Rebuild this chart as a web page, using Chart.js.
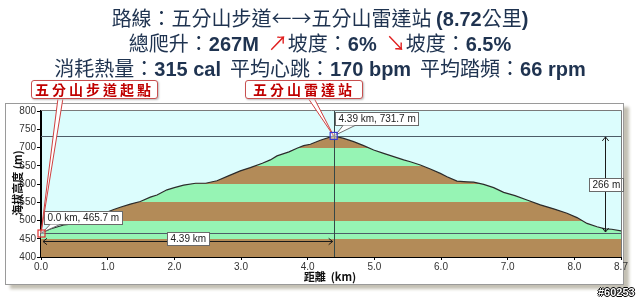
<!DOCTYPE html>
<html><head><meta charset="utf-8">
<script src="https://cdn.jsdelivr.net/npm/chart.js@4.4.0/dist/chart.umd.min.js"></script>
<style>
html,body{margin:0;padding:0;background:#fff;}
#wrap{position:relative;width:640px;height:302px;overflow:hidden;background:#fff;}
#panel{position:absolute;left:5px;top:103px;width:617px;height:180px;border:1px solid #9a9a9a;background:#fff;box-shadow:5px 4px 3px #c4c0b4;}
#cv{position:absolute;left:0;top:0;}
.t{position:absolute;left:0;width:640px;text-align:center;color:#1f3350;font-family:"Noto Sans CJK TC",sans-serif;font-size:20px;line-height:24px;white-space:nowrap;}
.b{font-family:"Liberation Sans",Arial,sans-serif;font-weight:bold;}
.r{color:#e02020;}
.call{position:absolute;top:80px;height:17px;border:1px solid #c85050;border-radius:3px;background:#fff;color:#c00000;font-family:"Noto Sans CJK TC",sans-serif;font-weight:bold;font-size:14px;line-height:17px;text-align:center;letter-spacing:3px;box-shadow:1px 1px 2px #bbb;white-space:nowrap;}
.ax{position:absolute;font-family:"Noto Sans CJK TC",sans-serif;font-weight:bold;font-size:11px;color:#111;white-space:nowrap;}
#wm{position:absolute;left:598px;top:286px;font-family:"Liberation Sans",Arial,sans-serif;font-weight:bold;font-size:11px;color:#fff;text-shadow:1px 0 #000,-1px 0 #000,0 1px #000,0 -1px #000;}
</style>
</head><body>
<div id="wrap">
  <div id="panel"></div>
  <canvas id="cv" width="640" height="302"></canvas>
  <div class="t" style="top:6px">路線：五分山步道←→五分山雷達站 <span class="b">(8.72</span>公里<span class="b">)</span></div>
  <div class="t" style="top:31px">總爬升：<span class="b">267M</span>&nbsp;&nbsp;<span class="r">↗</span>坡度：<span class="b">6%</span>&nbsp;&nbsp;<span class="r">↘</span>坡度：<span class="b">6.5%</span></div>
  <div class="t" style="top:56px">消耗熱量：<span class="b">315 cal</span>&nbsp;&nbsp;平均心跳：<span class="b">170 bpm</span>&nbsp;&nbsp;平均踏頻：<span class="b">66 rpm</span></div>
  <div class="call" style="left:31px;width:125px;">五分山步道起點</div>
  <div class="call" style="left:245px;width:116px;">五分山雷達站</div>
  <div class="ax" style="left:-18px;top:175px;width:70px;text-align:center;transform:rotate(-90deg);">海拔高度 (m)</div>
  <div class="ax" style="left:290px;top:268px;width:80px;text-align:center;">距離&nbsp;&nbsp;(km)</div>
  <div id="wm">#60253</div>
</div>
<script>
// ---- data ----
const distKm = [0, 0.14, 0.34, 0.49, 0.7, 0.9, 1.09, 1.2, 1.34, 1.49, 1.64, 1.74, 1.89, 2.0, 2.14, 2.32, 2.47, 2.64, 2.82, 2.99, 3.14, 3.32, 3.44, 3.54, 3.72, 3.84, 3.94, 4.04, 4.19, 4.39, 4.54, 4.69, 4.84, 4.99, 5.14, 5.29, 5.44, 5.54, 5.69, 5.84, 5.99, 6.09, 6.24, 6.39, 6.49, 6.64, 6.79, 6.94, 7.11, 7.29, 7.49, 7.69, 7.89, 8.04, 8.19, 8.34, 8.46, 8.56, 8.71];
const elevM  = [465.7, 476.7, 487.7, 490.4, 503, 516, 530, 537, 545, 552, 564, 570, 584, 590, 597, 602, 602, 609, 623, 636, 645, 657, 666, 677, 688, 698, 705, 709, 720, 731.7, 725, 716, 705, 693, 684, 675, 666, 661, 652, 641, 629, 620, 608, 606, 605, 599, 590, 577, 568, 556, 543, 532, 520, 508, 492, 483, 477, 476, 471];
const xTickValues = [0, 1, 2, 3, 4, 5, 6, 7, 8, 8.7];
const yTickValues = [400, 450, 500, 550, 600, 650, 700, 750, 800];
const bandEdges = [400, 450, 500, 550, 600, 650, 700, 750, 800];
const startPoint = {km: 0, m: 465.7, label: '0.0 km, 465.7 m'};
const peakPoint = {km: 4.39, m: 731.7, label: '4.39 km, 731.7 m'};
const distArrow = {from: 0, to: 4.39, atM: 444, label: '4.39 km'};
const climbArrow = {atKm: 8.46, from: 465.7, to: 731.7, label: '266 m'};

const points = distKm.map((d, i) => ({x: d, y: elevM[i]}));
const BROWN = '#b38b58', GREEN = '#96f4b4';

function bandFill(context) {
  const chart = context.chart;
  const a = chart.chartArea;
  if (!a) return BROWN;
  const ys = chart.scales.y;
  const y0 = ys.getPixelForValue(bandEdges[0]);
  const y1 = ys.getPixelForValue(bandEdges[bandEdges.length - 1]);
  const g = chart.ctx.createLinearGradient(0, y0, 0, y1);
  for (let i = 0; i < bandEdges.length - 1; i++) {
    const c = i % 2 === 0 ? BROWN : GREEN;
    const t0 = (ys.getPixelForValue(bandEdges[i]) - y0) / (y1 - y0);
    const t1 = (ys.getPixelForValue(bandEdges[i + 1]) - y0) / (y1 - y0);
    g.addColorStop(Math.max(0, Math.min(1, t0)), c);
    g.addColorStop(Math.max(0, Math.min(1, t1 - 0.0001)), c);
  }
  return g;
}

function arrowHead(ctx, x, y, dir) {
  // dir: 'l','r','u','d'
  const s = 4;
  ctx.beginPath();
  if (dir === 'l') { ctx.moveTo(x + s, y - s * 0.8); ctx.lineTo(x, y); ctx.lineTo(x + s, y + s * 0.8); }
  if (dir === 'r') { ctx.moveTo(x - s, y - s * 0.8); ctx.lineTo(x, y); ctx.lineTo(x - s, y + s * 0.8); }
  if (dir === 'u') { ctx.moveTo(x - s * 0.8, y + s); ctx.lineTo(x, y); ctx.lineTo(x + s * 0.8, y + s); }
  if (dir === 'd') { ctx.moveTo(x - s * 0.8, y - s); ctx.lineTo(x, y); ctx.lineTo(x + s * 0.8, y - s); }
  ctx.stroke();
}

function labelBox(ctx, text, cx, cy, left) {
  ctx.font = '10px "Liberation Sans", Arial, sans-serif';
  const w = Math.round(ctx.measureText(text).width) + 6;
  const h = 13;
  const x = left !== undefined ? left : Math.round(cx - w / 2);
  const y = Math.round(cy - h / 2);
  ctx.fillStyle = '#fff';
  ctx.fillRect(x + 0.5, y + 0.5, w, h);
  ctx.strokeStyle = '#6a6a6a';
  ctx.lineWidth = 1;
  ctx.strokeRect(x + 0.5, y + 0.5, w, h);
  ctx.fillStyle = '#222';
  ctx.textBaseline = 'middle';
  ctx.textAlign = 'left';
  ctx.fillText(text, x + 3.5, y + h / 2 + 1);
  return {x, y, w, h};
}

function wedge(ctx, px, py, x1, x2, yb, stroke) {
  ctx.beginPath();
  ctx.moveTo(px, py);
  ctx.lineTo(x1, yb);
  ctx.lineTo(x2, yb);
  ctx.closePath();
  ctx.fillStyle = '#fff';
  ctx.fill();
  ctx.strokeStyle = stroke;
  ctx.lineWidth = 1;
  ctx.beginPath();
  ctx.moveTo(x1, yb); ctx.lineTo(px, py); ctx.lineTo(x2, yb);
  ctx.stroke();
}

const deco = {
  id: 'deco',
  beforeDraw(chart) {
    const {ctx, chartArea: a} = chart;
    ctx.save();
    ctx.fillStyle = '#dcfdfd';
    ctx.fillRect(a.left, a.top, a.right - a.left, a.bottom - a.top);
    ctx.restore();
  },
  afterDatasetsDraw(chart) {
    const {ctx, chartArea: a, scales: {x, y}} = chart;
    ctx.save();
    // reference lines
    ctx.lineWidth = 1;
    ctx.strokeStyle = '#4d5d68';
    [peakPoint.m, startPoint.m].forEach(v => {
      const py = Math.round(y.getPixelForValue(v)) + 0.5;
      ctx.beginPath(); ctx.moveTo(a.left, py); ctx.lineTo(a.right, py); ctx.stroke();
    });
    ctx.strokeStyle = '#354848';
    const vx = Math.round(x.getPixelForValue(peakPoint.km)) + 0.5;
    ctx.beginPath(); ctx.moveTo(vx, a.top); ctx.lineTo(vx, a.bottom); ctx.stroke();

    // horizontal distance arrow
    ctx.strokeStyle = '#1a1a1a';
    const ay = Math.round(y.getPixelForValue(distArrow.atM)) + 0.5;
    const ax0 = x.getPixelForValue(distArrow.from) + 2, ax1 = x.getPixelForValue(distArrow.to) - 1;
    ctx.beginPath(); ctx.moveTo(ax0, ay); ctx.lineTo(ax1, ay); ctx.stroke();
    arrowHead(ctx, ax0, ay, 'l'); arrowHead(ctx, ax1, ay, 'r');
    labelBox(ctx, distArrow.label, (ax0 + ax1) / 2, ay - 3);

    // vertical climb arrow
    const cx = Math.round(x.getPixelForValue(climbArrow.atKm)) + 0.5;
    const cy0 = y.getPixelForValue(climbArrow.to) + 1, cy1 = y.getPixelForValue(climbArrow.from) - 1;
    ctx.strokeStyle = '#1a1a1a';
    ctx.beginPath(); ctx.moveTo(cx, cy0); ctx.lineTo(cx, cy1); ctx.stroke();
    arrowHead(ctx, cx, cy0, 'u'); arrowHead(ctx, cx, cy1, 'd');
    labelBox(ctx, climbArrow.label, cx, (cy0 + cy1) / 2);

    // point labels with leader wedges
    const sx = x.getPixelForValue(startPoint.km), sy = y.getPixelForValue(startPoint.m);
    const sb = labelBox(ctx, startPoint.label, 0, sy - 16, Math.round(sx + 3));
    wedge(ctx, sx + 2, sy - 1, sb.x + 6, sb.x + 16, sb.y + sb.h + 0.5, '#707070');
    const kx = x.getPixelForValue(peakPoint.km), ky = y.getPixelForValue(peakPoint.m);
    const kb = labelBox(ctx, peakPoint.label, 0, ky - 17, Math.round(kx + 1));
    wedge(ctx, kx + 2, ky - 1, kb.x + 8, kb.x + 20, kb.y + kb.h + 0.5, '#707070');
    ctx.restore();
  },
  afterDraw(chart) {
    const {ctx, chartArea: a, scales: {x, y}} = chart;
    ctx.save();
    // plot top/right frame
    ctx.strokeStyle = '#7a7a7a';
    ctx.lineWidth = 1;
    ctx.beginPath();
    ctx.moveTo(a.left, a.top - 0.5); ctx.lineTo(a.right + 0.5, a.top - 0.5); ctx.lineTo(a.right + 0.5, a.bottom);
    ctx.stroke();

    const sx = x.getPixelForValue(startPoint.km), sy = y.getPixelForValue(startPoint.m);
    const kx = x.getPixelForValue(peakPoint.km), ky = y.getPixelForValue(peakPoint.m);
    // callout leader lines (red)
    wedge(ctx, sx, sy, 58, 63, 98, '#d04040');
    wedge(ctx, kx, ky, 308, 314, 98, '#d04040');

    // markers
    ctx.lineWidth = 1.2;
    ctx.strokeStyle = '#e03030';
    ctx.fillStyle = 'rgba(255,255,255,0.4)';
    ctx.fillRect(sx - 3, sy - 3, 7, 7);
    ctx.strokeRect(sx - 3, sy - 3, 7, 7);
    ctx.strokeStyle = '#3a3ad0';
    ctx.fillRect(kx - 3.5, ky - 3.5, 7, 7);
    ctx.strokeRect(kx - 3.5, ky - 3.5, 7, 7);
    ctx.restore();
  }
};

new Chart(document.getElementById('cv'), {
  type: 'line',
  data: {
    datasets: [{
      data: points,
      borderColor: '#2b2b2b',
      borderWidth: 1.2,
      pointRadius: 0,
      tension: 0,
      fill: 'start',
      backgroundColor: bandFill
    }]
  },
  options: {
    responsive: false,
    animation: false,
    events: [],
    layout: {padding: {top: 111, right: 19, bottom: 0, left: 0}},
    plugins: {legend: {display: false}, tooltip: {enabled: false}, title: {display: false}},
    scales: {
      x: {
        type: 'linear', min: 0, max: 8.7,
        afterBuildTicks: s => { s.ticks = xTickValues.map(v => ({value: v})); },
        afterFit: s => { s.height = 45; },
        ticks: {autoSkip: false, maxRotation: 0, padding: 1, color: '#333',
          font: {family: '"Liberation Sans", Arial, sans-serif', size: 10},
          callback: v => Number(v).toFixed(1)},
        grid: {drawOnChartArea: false, drawTicks: true, tickLength: 3, color: '#000'},
        border: {display: true, color: '#000', width: 2}
      },
      y: {
        min: 400, max: 800,
        afterBuildTicks: s => { s.ticks = yTickValues.map(v => ({value: v})); },
        afterFit: s => { s.width = 41; },
        ticks: {padding: 1, color: '#333',
          font: {family: '"Liberation Sans", Arial, sans-serif', size: 10}},
        grid: {drawOnChartArea: false, drawTicks: true, tickLength: 4, color: '#000'},
        border: {display: true, color: '#000', width: 2}
      }
    }
  },
  plugins: [deco]
});
</script>
</body></html>
